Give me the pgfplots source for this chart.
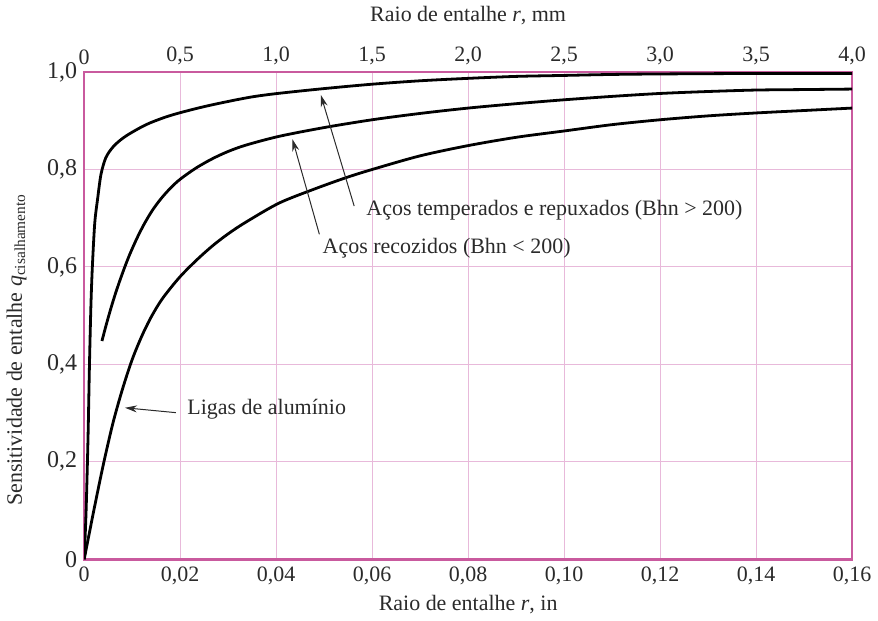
\documentclass[border=0pt]{standalone}
\usepackage{fontspec}
\setmainfont{Liberation Serif}
\usepackage{pgfplots}
\pgfplotsset{compat=1.18}
\usetikzlibrary{arrows.meta}
\definecolor{gridpink}{HTML}{E8B9DA}
\definecolor{framepink}{HTML}{C95A9E}
\definecolor{ink}{HTML}{2A2A2A}

\begin{document}
\begin{tikzpicture}[font=\fontsize{11}{13}\selectfont]
% mm scale on top
\begin{axis}[
  scale only axis, width=384.5pt, height=244pt,
  xmin=0, xmax=4, ymin=0, ymax=1,
  axis x line*=top, axis y line=none,
  axis line style={draw=none},
  xtick={0,0.5,1,1.5,2,2.5,3,3.5,4},
  xticklabels={0,{0,5},{1,0},{1,5},{2,0},{2,5},{3,0},{3,5},{4,0}},
  major tick length=0pt,
  x tick label style={text=ink},
  xlabel={Raio de entalhe \textit{r}, mm},
  xlabel style={at={(axis description cs:0.5,1.115)}, anchor=center, text=ink},
]
\end{axis}
\begin{axis}[
  scale only axis, width=384.5pt, height=244pt,
  xmin=0, xmax=0.16, ymin=0, ymax=1,
  xtick={0,0.02,0.04,0.06,0.08,0.1,0.12,0.14,0.16},
  xticklabels={0,{0,02},{0,04},{0,06},{0,08},{0,10},{0,12},{0,14},{0,16}},
  ytick={0,0.2,0.4,0.6,0.8,1},
  yticklabels={0,{0,2},{0,4},{0,6},{0,8},{1,0}},
  major tick length=0pt,
  tick label style={text=ink},
  y tick label style={font=\fontsize{12}{14}\selectfont},
  xmajorgrids, ymajorgrids,
  grid style={gridpink, line width=0.5pt},
  axis line style={framepink, line width=1.2pt},
  xlabel={Raio de entalhe \textit{r}, in},
  xlabel style={at={(axis description cs:0.5,-0.092)}, anchor=center, text=ink},
  ylabel={Sensitividade de entalhe \textit{q}\textsubscript{cisalhamento}},
  ylabel style={at={(axis description cs:-0.088,0.43)}, anchor=center, text=ink},
]
% Acos temperados e repuxados (Bhn > 200)
\addplot[black, line width=1.4pt, smooth, tension=0.5] coordinates {
(0,0) (0.0004,0.1) (0.0008,0.25) (0.0011,0.4) (0.0014,0.52) (0.0017,0.6)
(0.0022,0.69) (0.0028,0.74) (0.0035,0.79) (0.0045,0.824) (0.0059,0.845)
(0.0075,0.86) (0.0094,0.873) (0.0129,0.892) (0.0165,0.906) (0.0198,0.916)
(0.025,0.929) (0.0302,0.940) (0.035,0.949) (0.0403,0.956) (0.05,0.966)
(0.06,0.975) (0.07,0.982) (0.08,0.987) (0.09,0.991) (0.10,0.993)
(0.11,0.995) (0.12,0.996) (0.14,0.997) (0.16,0.997)};
% Acos recozidos (Bhn < 200)
\addplot[black, line width=1.4pt, smooth, tension=0.5] coordinates {
(0.0037,0.448) (0.0045,0.478) (0.0055,0.513) (0.0065,0.545) (0.0075,0.574)
(0.0085,0.601) (0.0095,0.626) (0.0110,0.659) (0.0125,0.688) (0.0142,0.716)
(0.016,0.740) (0.018,0.762) (0.020,0.780) (0.0233,0.803) (0.0267,0.822)
(0.030,0.837) (0.0337,0.850) (0.0406,0.868) (0.05,0.886) (0.06,0.902)
(0.07,0.915) (0.08,0.926) (0.09,0.935) (0.10,0.943) (0.11,0.950)
(0.12,0.956) (0.13,0.960) (0.14,0.963) (0.15,0.964) (0.16,0.965)};
% Ligas de aluminio
\addplot[black, line width=1.4pt, smooth, tension=0.5] coordinates {
(0,0) (0.002,0.1) (0.004,0.195) (0.006,0.28) (0.008,0.35) (0.010,0.41)
(0.012,0.458) (0.014,0.498) (0.0163,0.535) (0.0198,0.578) (0.0233,0.613)
(0.0267,0.643) (0.030,0.668) (0.0337,0.692) (0.0406,0.731) (0.048,0.760)
(0.0545,0.783) (0.06,0.800) (0.07,0.828) (0.08,0.849) (0.09,0.866)
(0.10,0.879) (0.11,0.892) (0.12,0.902) (0.13,0.910) (0.14,0.916)
(0.15,0.921) (0.16,0.926)};
% annotations
\draw[ink, line width=0.5pt, -{Stealth[length=6pt, width=3.5pt]}] (axis cs:0.05625,0.725) -- (axis cs:0.0493,0.953);
\node[anchor=west, text=ink, inner sep=1pt] at (axis cs:0.0583,0.717) {Aços temperados e repuxados (Bhn > 200)};
\draw[ink, line width=0.5pt, -{Stealth[length=6pt, width=3.5pt]}] (axis cs:0.049,0.667) -- (axis cs:0.0434,0.862);
\node[anchor=west, text=ink, inner sep=1pt] at (axis cs:0.0492,0.639) {Aços recozidos (Bhn < 200)};
\draw[ink, line width=0.5pt, -{Stealth[length=6pt, width=3.5pt]}] (axis cs:0.0191,0.301) -- (axis cs:0.0085,0.311);
\node[anchor=west, text=ink, inner sep=1pt] at (axis cs:0.021,0.309) {Ligas de alumínio};
\end{axis}
\end{tikzpicture}
\end{document}
